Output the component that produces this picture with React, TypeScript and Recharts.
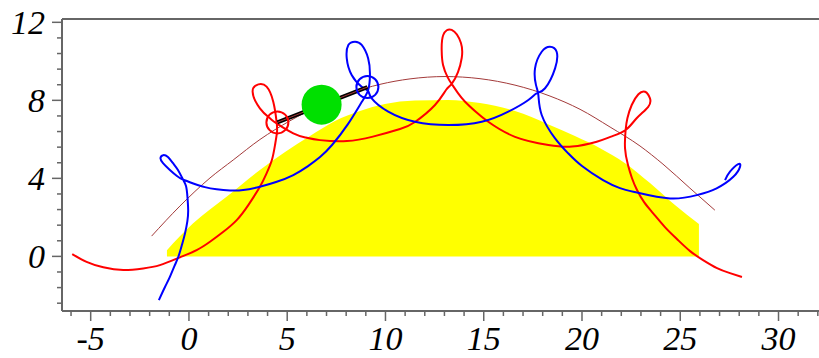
import {
  ComposedChart,
  XAxis,
  YAxis,
  Line,
  Area,
  ReferenceDot,
  ReferenceLine,
} from "recharts";

// view window (Maple-style plot box)
const X_MIN = -6.46;
const X_MAX = 32.06;
const Y_MIN = -2.8;
const Y_MAX = 12.17;

const X_TICKS = [-6, -5, -4, -3, -2, -1, 0, 1, 2, 3, 4, 5, 6, 7, 8, 9, 10, 11, 12, 13, 14, 15, 16, 17, 18, 19, 20, 21, 22, 23, 24, 25, 26, 27, 28, 29, 30, 31, 32];
const X_LABELS = [-5, 0, 5, 10, 15, 20, 25, 30];
const Y_TICKS = [-2.4, -1.6, -0.8, 0, 0.8, 1.6, 2.4, 3.2, 4, 4.8, 5.6, 6.4, 7.2, 8, 8.8, 9.6, 10.4, 11.2, 12];
const Y_LABELS = [0, 4, 8, 12];

// yellow hill (top edge)
const HILL = [
  [-1.12, 0.32], [0.2, 1.68], [1.93, 3.07], [3.61, 4.43], [4.89, 5.35], [6.16, 6.17],
  [7.43, 6.94], [8.7, 7.45], [9.97, 7.81], [11.5, 7.99], [13.18, 8.02], [14.81, 7.86],
  [16.59, 7.45], [18.27, 6.78], [19.64, 6.17], [20.92, 5.55], [22.19, 4.78], [23.46, 3.76],
  [24.73, 2.63], [25.95, 1.66],
];

// thin brown arc
const ARC = [
  [-1.9, 1.04], [-0.46, 2.58], [1.07, 4.02], [2.25, 4.94], [3.61, 5.99], [5.14, 6.95],
  [6.67, 7.75], [8.19, 8.37], [9.72, 8.82], [11.25, 9.1], [13.03, 9.22], [14.81, 9.11],
  [16.59, 8.78], [18.37, 8.22], [19.9, 7.54], [21.43, 6.63], [22.95, 5.66], [24.12, 4.73],
  [25.49, 3.5], [26.76, 2.37],
];

// red trace
const RED = [
  [-5.94, 0.12], [-5.21, -0.28], [-4.36, -0.56], [-3.34, -0.7], [-2.33, -0.62], [-1.48, -0.45],
  [-0.46, -0.05], [0.39, 0.32], [1.07, 0.75], [1.75, 1.26], [2.43, 1.86], [3.02, 2.63],
  [3.61, 3.57], [3.95, 4.26], [4.22, 4.94], [4.38, 5.71], [4.48, 6.37], [4.46, 6.9],
  [4.29, 7.93], [3.95, 8.7], [3.53, 8.82], [3.24, 8.44], [3.61, 7.59], [4.12, 7.08],
  [4.46, 6.82], [5.31, 6.31], [5.95, 6.09], [6.67, 5.96], [8.04, 5.91], [9.36, 6.14],
  [10.74, 6.53], [11.5, 6.89], [12.52, 7.76], [13.08, 8.53], [13.37, 8.84], [13.69, 9.45],
  [13.88, 10.17], [13.84, 10.94], [13.37, 11.61], [12.94, 11.35], [12.86, 10.58], [12.93, 9.81],
  [13.16, 9.19], [13.37, 8.84], [13.69, 8.37], [14.05, 7.93], [14.61, 7.4], [15.23, 6.9],
  [16.59, 6.13], [18.29, 5.71], [19.49, 5.63], [20.75, 5.88], [21.48, 6.14], [22.22, 6.48],
  [22.78, 7.08], [23.37, 7.67], [23.46, 8.1], [23.21, 8.44], [22.87, 8.31], [22.53, 7.76],
  [22.31, 7.08], [22.22, 6.48], [22.19, 5.54], [22.34, 4.68], [22.54, 4.02], [22.8, 3.4],
  [23.16, 2.78], [23.61, 2.22], [24.22, 1.5], [24.83, 0.89], [25.5, 0.27], [26.16, -0.19],
  [26.87, -0.6], [27.53, -0.86], [28.14, -1.06],
];

// blue trace
const BLUE = [
  [-1.53, -2.24], [-1.22, -1.57], [-0.97, -1.05], [-0.74, -0.5], [-0.54, -0.02], [-0.36, 0.58],
  [-0.2, 1.18], [-0.08, 1.81], [-0.04, 2.37], [-0.08, 3.09], [-0.15, 3.61], [-0.31, 3.96],
  [-0.56, 4.43], [-0.81, 4.78], [-1.07, 5.09], [-1.31, 5.19], [-1.45, 5.04], [-1.32, 4.78],
  [-0.97, 4.43], [-0.61, 4.12], [-0.31, 3.94], [0.22, 3.74], [0.81, 3.55], [1.41, 3.44],
  [2.09, 3.38], [2.76, 3.4], [3.61, 3.57], [4.43, 3.81], [5.31, 4.17], [6.06, 4.63],
  [6.67, 5.09], [7.28, 5.71], [8.09, 6.78], [8.79, 7.91], [9.12, 8.53], [9.21, 9.3],
  [9.12, 10.15], [8.79, 10.84], [8.45, 11.01], [8.11, 10.84], [8.03, 10.15], [8.28, 9.3],
  [8.79, 8.7], [9.12, 8.48], [9.3, 8.1], [10.14, 7.42], [11.5, 6.9], [13.2, 6.73],
  [14.9, 6.9], [16.25, 7.42], [17.27, 8.02], [17.69, 8.36], [18.12, 8.62], [18.63, 9.64],
  [18.71, 10.49], [18.37, 10.75], [17.95, 10.49], [17.61, 9.64], [17.66, 8.78], [17.78, 8.27],
  [17.95, 7.25], [18.63, 6.05], [19.29, 5.29], [20.0, 4.63], [21.07, 3.91], [21.93, 3.5],
  [22.8, 3.27], [24.48, 2.97], [25.84, 3.14], [26.85, 3.49], [27.7, 4.08], [28.04, 4.59],
  [27.95, 4.73], [27.53, 4.34], [27.28, 3.91],
];

// rod between the two small circles, green ball
const ROD_START = { x: 4.5, y: 6.87 };
const ROD_END = { x: 9.08, y: 8.68 };
const BALL = { x: 6.75, y: 7.78 };

const AXIS = "#666666";
const FONT = "'Liberation Serif', 'Times New Roman', serif";

const toPoints = (pairs: number[][]) => pairs.map(([x, y]) => ({ x, y }));

function XTick({ x, y, payload }: any) {
  const v = payload.value;
  const major = X_LABELS.includes(v);
  return (
    <g>
      <line x1={x} y1={y} x2={x} y2={y + (major ? 10 : 5)} stroke={AXIS} strokeWidth={1.5} />
      {major && (
        <text x={x} y={y + 39} textAnchor="middle" fontFamily={FONT} fontStyle="italic" fontSize={34} fill="#000">
          {String(v)}
        </text>
      )}
    </g>
  );
}

function YTick({ x, y, payload }: any) {
  const v = payload.value;
  const major = Y_LABELS.includes(v);
  return (
    <g>
      <line x1={x} y1={y} x2={x - (major ? 10 : 5)} y2={y} stroke={AXIS} strokeWidth={1.5} />
      {major && (
        <text x={x - 17} y={y + 12} textAnchor="end" fontFamily={FONT} fontStyle="italic" fontSize={34} fill="#000">
          {String(v)}
        </text>
      )}
    </g>
  );
}

export default function App() {
  return (
    <div style={{ position: "absolute", left: 0, top: 0, width: 819, height: 358, background: "#fff" }}>
      <ComposedChart width={819} height={358} margin={{ top: 19, right: 0, bottom: 0, left: 0 }}>
        <XAxis
          type="number"
          dataKey="x"
          domain={[X_MIN, X_MAX]}
          allowDataOverflow
          ticks={X_TICKS}
          interval={0}
          tick={<XTick />}
          tickLine={false}
          tickSize={0}
          tickMargin={0}
          height={47}
          axisLine={{ stroke: AXIS, strokeWidth: 2 }}
        />
        <YAxis
          type="number"
          dataKey="y"
          domain={[Y_MIN, Y_MAX]}
          allowDataOverflow
          ticks={Y_TICKS}
          interval={0}
          tick={<YTick />}
          tickLine={false}
          tickSize={0}
          tickMargin={0}
          width={62}
          axisLine={{ stroke: AXIS, strokeWidth: 2 }}
        />
        <ReferenceLine y={Y_MAX} stroke={AXIS} strokeWidth={2} />
        <Area
          data={toPoints(HILL)}
          dataKey="y"
          type="monotone"
          baseValue={0}
          fill="#ffff00"
          fillOpacity={1}
          stroke="none"
          isAnimationActive={false}
        />
        <Line data={toPoints(ARC)} dataKey="y" type="monotone" stroke="#a33a3a" strokeWidth={1} dot={false} isAnimationActive={false} />
        <Line data={toPoints(RED)} dataKey="y" type="natural" stroke="#ff0000" strokeWidth={2} dot={false} isAnimationActive={false} />
        <Line data={toPoints(BLUE)} dataKey="y" type="natural" stroke="#0000ff" strokeWidth={2} dot={false} isAnimationActive={false} />
        <ReferenceDot x={BALL.x} y={BALL.y} r={20} fill="#00e000" stroke="none" />
        <ReferenceLine segment={[ROD_START, ROD_END]} stroke="#000" strokeWidth={4} />
        <ReferenceLine segment={[ROD_START, ROD_END]} stroke="#a33a3a" strokeWidth={1} />
        <ReferenceDot x={ROD_START.x} y={ROD_START.y} r={11} fill="none" stroke="#ff0000" strokeWidth={2} />
        <ReferenceDot x={ROD_END.x} y={ROD_END.y} r={11} fill="none" stroke="#0000ff" strokeWidth={2} />
      </ComposedChart>
    </div>
  );
}
